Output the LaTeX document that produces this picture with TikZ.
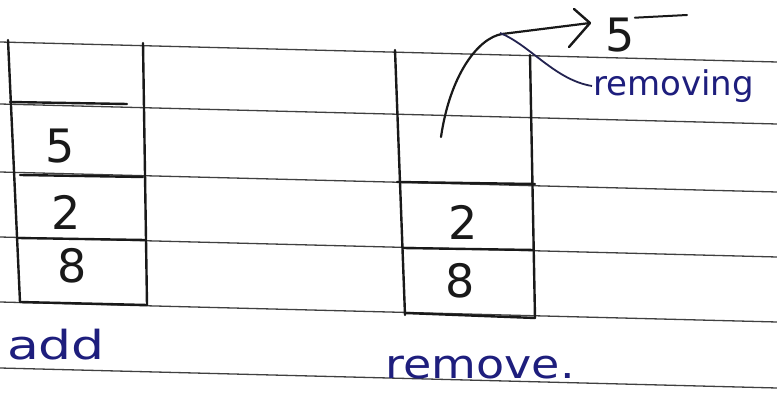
\documentclass[tikz,border=0pt]{standalone}
\usepackage{fontspec}
\setmainfont{DejaVu Sans}
\usetikzlibrary{arrows.meta}
\begin{document}
\begin{tikzpicture}[x=1pt,y=-1pt,
  rule/.style={draw=black!75,line width=1.3pt},
  boxline/.style={draw=black!90,line width=2.4pt,line cap=round},
  digit/.style={font=\fontsize{46}{46}\selectfont,text=black!90},
  ink/.style={text={rgb,255:red,30;green,30;blue,125}},
  inkline/.style={draw={rgb,255:red,35;green,35;blue,80},line width=1.8pt}]
\useasboundingbox[fill=white] (0,0) rectangle (777,403);
% ruled paper lines
\foreach \y in {42,104,172,237,302,368}
  \draw[rule] (0,\y) -- (777,\y+20);
% left stack
\draw[boxline] (8,40) -- (20,302);
\draw[boxline] (143,43) -- (147,305);
\draw[boxline] (10,102) -- (127,104);
\draw[boxline] (20,175) -- (143,177);
\draw[boxline] (18,238) -- (145,240);
\draw[boxline] (20,302) -- (147,305);
\node[digit] (l5) at (60,146) {5};
\node[digit] (l2) at (66,212) {2};
\node[digit] (l8) at (72,266) {8};
\node[ink,font=\fontsize{40}{40}\selectfont,xscale=1.3] (add) at (56,345) {add};
% right stack
\draw[boxline] (395,50) -- (405,315);
\draw[boxline] (530,55) -- (535,318);
\draw[boxline] (397,182) -- (535,184);
\draw[boxline] (403,248) -- (534,250);
\draw[boxline] (405,313) -- (535,318);
\node[digit] (r2) at (463,222) {2};
\node[digit] (r8) at (460,281) {8};
\node[ink,font=\fontsize{40}{40}\selectfont,xscale=1.15] (remove) at (480,368) {remove.};
% popped element
\node[digit,inner sep=0pt] (p5) at (620,35) {5};
\coordinate (src) at (441,137);
\coordinate (tip) at (590,23);
\draw[boxline,line width=2.2pt] (src) .. controls (450,75) and (478,38) .. (502,34) -- (tip);
\coordinate (tipA) at (574,9);
\coordinate (tipB) at (569,47);
\draw[boxline,line width=2.4pt,line join=round] (tipA) -- (tip) -- (tipB);
\draw[boxline,line width=2pt] (p5.north east) -- (687,15);
\node[ink,font=\fontsize{34}{34}\selectfont,anchor=west,inner sep=1pt] (removing) at (592,86) {removing};
\coordinate (lead) at (500,33);
\draw[inkline] (lead) .. controls (530,45) and (555,80) .. (removing.west);
\end{tikzpicture}
\end{document}
